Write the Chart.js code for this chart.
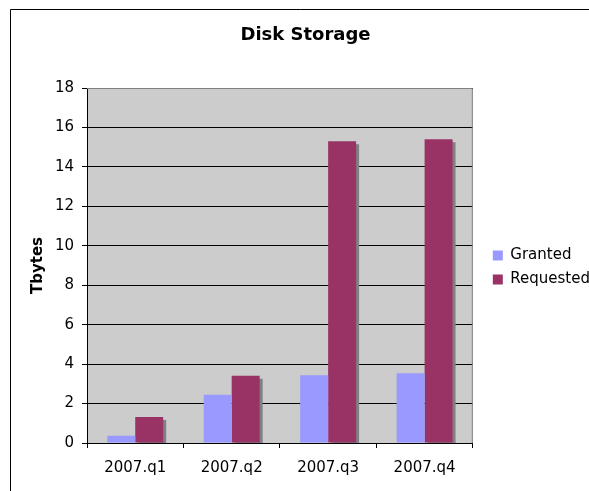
<!DOCTYPE html>
<html>
<head>
<meta charset="utf-8">
<script src="https://cdn.jsdelivr.net/npm/chart.js@4"></script>
<style>
  html, body { margin: 0; padding: 0; background: #fff; }
  #wrap { width: 589px; height: 491px; }
</style>
</head>
<body>
<div id="wrap"><canvas id="chartDisk"></canvas></div>
<script>
const quarters = ['2007.q1', '2007.q2', '2007.q3', '2007.q4'];
const granted = [0.37, 2.45, 3.44, 3.54];
const requested = [1.32, 3.41, 15.3, 15.4];
const yTicks = [0, 2, 4, 6, 8, 10, 12, 14, 16, 18];

const FONT = 'DejaVu Sans, Verdana, sans-serif';
Chart.defaults.font.family = FONT;
Chart.defaults.font.size = 15;
Chart.defaults.color = '#000';

// white page, thin black frame, gray plot area, shadow behind the Requested bars
const excelLook = {
  id: 'excelLook',
  beforeDraw(chart) {
    const { ctx, chartArea: a } = chart;
    ctx.save();
    ctx.fillStyle = '#fff';
    ctx.fillRect(0, 0, chart.width, chart.height);
    ctx.strokeStyle = '#000';
    ctx.lineWidth = 1;
    ctx.beginPath();
    ctx.moveTo(10.5, chart.height + 5);
    ctx.lineTo(10.5, 9.5);
    ctx.lineTo(chart.width + 5, 9.5);
    ctx.stroke();
    ctx.fillStyle = '#cccccc';
    ctx.fillRect(a.left, a.top, a.right - a.left, a.bottom - a.top);
    ctx.restore();
  },
  beforeDatasetDraw(chart, args) {
    const ctx = chart.ctx;
    ctx.save();
    if (args.index === 1) {
      ctx.shadowColor = '#808080';
      ctx.shadowOffsetX = 3;
      ctx.shadowOffsetY = 3;
      ctx.shadowBlur = 0;
    }
  },
  afterDatasetDraw(chart) {
    chart.ctx.restore();
  },
  afterDatasetsDraw(chart) {
    const { ctx, chartArea: a } = chart;
    ctx.save();
    ctx.strokeStyle = '#808080';
    ctx.lineWidth = 1;
    ctx.beginPath();
    ctx.moveTo(a.left, a.top + 0.5);
    ctx.lineTo(a.right - 0.5, a.top + 0.5);
    ctx.lineTo(a.right - 0.5, a.bottom);
    ctx.stroke();
    ctx.restore();
  },
  afterLayout(chart) {
    // legend sits a little clear of the plot area
    const lg = chart.legend;
    lg.left += 11; lg.right += 11;
    lg.top += 22; lg.bottom += 22;
  }
};

new Chart(document.getElementById('chartDisk'), {
  type: 'bar',
  data: {
    labels: quarters,
    datasets: [
      { label: 'Granted', data: granted, backgroundColor: '#9999ff', borderWidth: 0 },
      { label: 'Requested', data: requested, backgroundColor: '#993366', borderWidth: 0 }
    ]
  },
  options: {
    responsive: true, maintainAspectRatio: false, animation: false,
    devicePixelRatio: 1,
    layout: { padding: { left: 22, top: 0, right: 0, bottom: 0 } },
    datasets: { bar: { categoryPercentage: 0.58, barPercentage: 1.0 } },
    plugins: {
      title: {
        display: true, text: 'Disk Storage', color: '#000',
        font: { size: 18, weight: 'bold' },
        padding: { top: 25, bottom: 41.4 }
      },
      legend: {
        position: 'right',
        labels: { boxWidth: 10, boxHeight: 10, padding: 9, color: '#000', font: { size: 15 } }
      },
      tooltip: { enabled: false }
    },
    scales: {
      x: {
        grid: { display: true, drawOnChartArea: false, drawTicks: true, tickLength: 5, color: '#000', offset: true },
        border: { color: '#000' },
        ticks: { padding: 11, maxRotation: 0 },
        afterFit: s => { s.height = 48; }
      },
      y: {
        min: 0, max: 18,
        afterBuildTicks: s => { s.ticks = yTicks.map(v => ({ value: v })); },
        grid: { color: '#000', tickLength: 5 },
        border: { color: '#000' },
        ticks: { padding: 8 },
        title: { display: true, text: 'Tbytes', font: { size: 15, weight: 'bold' }, padding: { top: 7, bottom: 0 } },
        afterFit: s => { s.width = 65; }
      }
    }
  },
  plugins: [excelLook]
});
</script>
</body>
</html>
